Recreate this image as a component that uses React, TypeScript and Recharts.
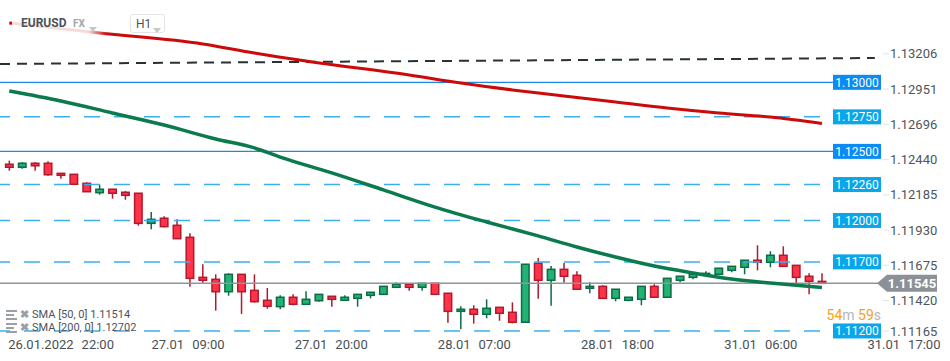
import React from "react";
import { Bar, ComposedChart, Line, ReferenceLine, XAxis, YAxis } from "recharts";

// hourly EURUSD candles, 26.01 22:00 -> 31.01 14:00
const opens = [
  1.12407, 1.12385, 1.12414, 1.12414, 1.12341, 1.12334, 1.12269, 1.12201, 1.12226, 1.12204,
  1.12197, 1.11979, 1.12016, 1.11965, 1.11878, 1.11588, 1.11574, 1.11484, 1.1161, 1.11494,
  1.11422, 1.11376, 1.11444, 1.11393, 1.11419, 1.11451, 1.11422, 1.11436, 1.11458, 1.11465,
  1.11516, 1.11538, 1.11516, 1.11545, 1.11473, 1.11342, 1.11357, 1.11321, 1.11371, 1.11335,
  1.11263, 1.1169, 1.11567, 1.11646, 1.11603, 1.11509, 1.11523, 1.11436, 1.11422, 1.11429,
  1.11523, 1.11444, 1.11567, 1.11588, 1.11603, 1.1161, 1.11639, 1.11661, 1.11712, 1.11697,
  1.11748, 1.11675, 1.11596, 1.11559,
];
const highs = [
  1.12433, 1.12421, 1.12421, 1.12428, 1.12341, 1.12334, 1.12276, 1.12259, 1.12226, 1.12213,
  1.12197, 1.12061, 1.1203, 1.12008, 1.11907, 1.11683, 1.1161, 1.11617, 1.1161, 1.1161,
  1.11511, 1.11458, 1.11465, 1.11487, 1.11465, 1.11451, 1.11458, 1.11465, 1.1148, 1.11523,
  1.11552, 1.11538, 1.11545, 1.11545, 1.11473, 1.11379, 1.11386, 1.11429, 1.11371, 1.11407,
  1.11683, 1.11728, 1.1167, 1.11692, 1.11632, 1.11552, 1.11531, 1.11502, 1.11444, 1.11523,
  1.11538, 1.11581, 1.11596, 1.11625, 1.11632, 1.11654, 1.11668, 1.11712, 1.1182, 1.11777,
  1.11813, 1.11675, 1.11617, 1.11617,
];
const lows = [
  1.1236, 1.12375, 1.1236, 1.12324, 1.12302, 1.12262, 1.12208, 1.12186, 1.12158, 1.1215,
  1.11962, 1.11936, 1.1195, 1.11868, 1.1152, 1.11549, 1.11347, 1.11455, 1.11323, 1.11405,
  1.11361, 1.11357, 1.11386, 1.11393, 1.11412, 1.11376, 1.11422, 1.11376, 1.11436, 1.11465,
  1.11516, 1.11491, 1.11491, 1.11465, 1.1126, 1.11212, 1.11253, 1.11292, 1.11274, 1.11255,
  1.11263, 1.11434, 1.11383, 1.11549, 1.11502, 1.11473, 1.11436, 1.11415, 1.11415, 1.11386,
  1.11444, 1.11444, 1.11552, 1.11574, 1.11603, 1.1161, 1.11625, 1.1161, 1.11639, 1.11661,
  1.11668, 1.11538, 1.11465, 1.11552,
];
const closes = [
  1.12385, 1.12414, 1.12396, 1.12331, 1.12327, 1.12262, 1.12208, 1.12226, 1.12197, 1.12182,
  1.11979, 1.12008, 1.11955, 1.11868, 1.11581, 1.11567, 1.11484, 1.1161, 1.11484, 1.11412,
  1.11379, 1.11444, 1.11393, 1.11429, 1.11465, 1.11429, 1.11444, 1.11465, 1.1148, 1.11523,
  1.11538, 1.11516, 1.11545, 1.11465, 1.11342, 1.11357, 1.11321, 1.11364, 1.11328, 1.11263,
  1.11683, 1.11567, 1.11646, 1.11596, 1.11502, 1.11523, 1.11436, 1.11502, 1.11444, 1.11523,
  1.11444, 1.11581, 1.11596, 1.1161, 1.11617, 1.11654, 1.11668, 1.11712, 1.11697, 1.11748,
  1.11668, 1.11588, 1.11559, 1.11545,
];

// moving averages, read at a few candles
const sma50Idx = [0, 4, 8, 12, 16, 19, 21, 25, 29, 33, 37, 41, 44, 47, 50, 53, 56, 59, 63];
const sma50Vals = [
  1.12937, 1.12865, 1.12778, 1.12691, 1.1259, 1.12525, 1.12459, 1.12344, 1.12221, 1.12097,
  1.11989, 1.11888, 1.11808, 1.11735, 1.1167, 1.1162, 1.11576, 1.11547, 1.11514,
];
const sma200Idx = [0, 7, 15, 19, 23, 31, 35, 39, 43, 47, 51, 55, 59, 63];
const sma200Vals = [
  1.1343, 1.13357, 1.13278, 1.13212, 1.13154, 1.13053, 1.12995, 1.12945, 1.12901, 1.12858,
  1.12814, 1.12778, 1.12749, 1.12702,
];

const priceTicks = [1.11165, 1.1142, 1.11675, 1.1193, 1.12185, 1.1244, 1.12696, 1.12951, 1.13206];
const timeTicks = [0, 11, 22, 33, 44, 55, 66];
const tickDates = ["26.01.2022", "27.01", "27.01", "28.01", "28.01", "31.01", "31.01"];
const tickHours = ["22:00", "09:00", "20:00", "07:00", "18:00", "06:00", "17:00"];

const solidLevels = [1.13, 1.125];
const dashedLevels = [1.1275, 1.1226, 1.12, 1.117, 1.112];
const lastPrice = 1.11545;
const trendFrom = 1.13133;
const trendTo = 1.13176;

const candles = opens.map((o, i) => {
  const a = sma50Idx.indexOf(i);
  const b = sma200Idx.indexOf(i);
  return {
    i,
    open: o,
    high: highs[i],
    low: lows[i],
    close: closes[i],
    range: [lows[i], highs[i]],
    sma50: a >= 0 ? sma50Vals[a] : null,
    sma200: b >= 0 ? sma200Vals[b] : null,
  };
});

const FONT = "Roboto, sans-serif";

const Candle = (props: any) => {
  const { x, y, width, height, payload } = props;
  const { open, close, high, low } = payload;
  const top = Math.min(y, y + height);
  const h = Math.abs(height);
  const k = h / (high - low);
  const up = close >= open;
  const bTop = top + (high - Math.max(open, close)) * k;
  const bBot = top + (high - Math.min(open, close)) * k;
  const cx = x + width / 2;
  const stroke = up ? "#0d6b45" : "#b0192e";
  const fill = up ? "#22b274" : "#ff3348";
  return (
    <g>
      <line x1={cx} x2={cx} y1={top} y2={top + h} stroke={stroke} strokeWidth={1.5} />
      <rect
        x={x + 0.75}
        y={bTop}
        width={width - 1.5}
        height={Math.max(bBot - bTop, 1.5)}
        fill={fill}
        stroke={stroke}
        strokeWidth={1.5}
      />
    </g>
  );
};

const TimeTick = (props: any) => {
  const { x, y, payload } = props;
  const k = timeTicks.indexOf(payload.value);
  return (
    <text x={x - 1 + k * 1.3} y={y + 9} fontSize={13} fill="#4a4f55" fontFamily={FONT}>
      <tspan>{tickDates[k]}</tspan>
      <tspan dx={8}>{tickHours[k]}</tspan>
    </text>
  );
};

const PriceTick = (props: any) => {
  const { x, y, payload } = props;
  // lowest label is pushed up so it clears the time labels
  const ty = y > 333 ? 331 : y;
  return (
    <g>
      <line x1={x + 1} x2={x + 7} y1={ty} y2={ty} stroke="#e2e2e2" />
      <text x={x + 8} y={ty + 4.5} fontSize={13} fill="#4f555b" fontFamily={FONT}>
        {payload.value.toFixed(5)}
      </text>
    </g>
  );
};

const LevelTag = (props: any) => {
  const { viewBox, text, color } = props;
  const ex = viewBox.x + viewBox.width;
  const y = viewBox.y;
  return (
    <g>
      <rect x={ex - 47} y={y - 7.5} width={48} height={15} fill={color} />
      <text x={ex - 23} y={y + 4.3} textAnchor="middle" fontSize={12} fill="#fff" fontFamily={FONT}>
        {text}
      </text>
    </g>
  );
};

const PriceTag = (props: any) => {
  const { viewBox } = props;
  const ex = viewBox.x + viewBox.width;
  const y = viewBox.y;
  const pts = `${ex - 3},${y} ${ex + 7},${y - 8.5} ${ex + 57},${y - 8.5} ${ex + 57},${y + 8.5} ${ex + 7},${y + 8.5}`;
  return (
    <g>
      <polygon points={pts} fill="#8b9196" />
      <text x={ex + 32} y={y + 4.5} textAnchor="middle" fontSize={13} fontWeight="bold" fill="#fff" fontFamily={FONT}>
        {lastPrice.toFixed(5)}
      </text>
    </g>
  );
};

const Caret = ({ color }: { color: string }) => (
  <svg width={8} height={5} style={{ display: "inline-block" }}>
    <polygon points="0,0 8,0 4,5" fill={color} />
  </svg>
);

const ListIcon = () => (
  <svg width={11} height={10} style={{ display: "inline-block" }}>
    <rect x={0} y={0} width={11} height={2} fill="#9aa0a5" />
    <rect x={0} y={4} width={8} height={2} fill="#9aa0a5" />
    <rect x={0} y={8} width={11} height={2} fill="#9aa0a5" />
  </svg>
);

export default function App() {
  return (
    <div style={{ position: "relative", width: 950, height: 361, background: "#fff", fontFamily: FONT }}>
      <style>{"body{margin:0}"}</style>
      <ComposedChart width={950} height={361} data={candles} margin={{ top: 0, right: 0, bottom: 0, left: 0 }}>
        <XAxis
          type="number"
          dataKey="i"
          domain={[-0.72, 67.5]}
          allowDataOverflow
          ticks={timeTicks}
          interval={0}
          tick={<TimeTick />}
          axisLine={false}
          tickLine={false}
          tickSize={0}
          height={23}
        />
        <YAxis
          orientation="right"
          domain={[1.11149, 1.13596]}
          allowDataOverflow
          ticks={priceTicks}
          interval={0}
          tick={<PriceTick />}
          axisLine={false}
          tickLine={false}
          tickSize={0}
          width={70}
        />
        <Bar dataKey="range" barSize={9} shape={Candle} isAnimationActive={false} />
        {solidLevels.map((v) => (
          <ReferenceLine
            key={v}
            y={v}
            stroke="#1e88e5"
            strokeWidth={1.2}
            label={<LevelTag text={v.toFixed(5)} color="#0b8bf4" />}
          />
        ))}
        {dashedLevels.map((v) => (
          <ReferenceLine
            key={v}
            y={v}
            stroke="#3aaff0"
            strokeWidth={1.5}
            strokeDasharray="16 14"
            label={<LevelTag text={v.toFixed(5)} color="#0aa6ec" />}
          />
        ))}
        <ReferenceLine
          segment={[
            { x: -0.72, y: trendFrom },
            { x: 67.1, y: trendTo },
          ]}
          stroke="#263238"
          strokeWidth={2}
          strokeDasharray="10 7"
        />
        <ReferenceLine y={lastPrice} stroke="#8f969b" strokeWidth={1.5} label={<PriceTag />} />
        <Line
          dataKey="sma200"
          type="monotone"
          connectNulls
          stroke="#cc0a0a"
          strokeWidth={3}
          dot={false}
          activeDot={false}
          isAnimationActive={false}
        />
        <Line
          dataKey="sma50"
          type="monotone"
          connectNulls
          stroke="#0b7a4c"
          strokeWidth={3.5}
          dot={false}
          activeDot={false}
          isAnimationActive={false}
        />
      </ComposedChart>

      {/* header fade + symbol */}
      <div
        style={{
          position: "absolute",
          left: 12,
          top: 11,
          width: 95,
          height: 24,
          background: "linear-gradient(to right, rgba(255,255,255,0.85) 0%, rgba(255,255,255,0.85) 80%, rgba(255,255,255,0) 100%)",
        }}
      />
      <div style={{ position: "absolute", left: 21, top: 16, fontSize: 12, fontWeight: "bold", color: "#4b535b" }}>
        EURUSD
      </div>
      <div style={{ position: "absolute", left: 73, top: 18, fontSize: 10, fontWeight: "bold", color: "#a0a6ab" }}>
        FX
      </div>
      <div style={{ position: "absolute", left: 89, top: 17 }}>
        <Caret color="#c4c8cb" />
      </div>
      <div
        style={{
          position: "absolute",
          left: 130,
          top: 14,
          width: 33,
          height: 17,
          border: "1px solid #e4e4e4",
          borderRadius: 3,
          background: "#fff",
        }}
      >
        <span style={{ position: "absolute", left: 5, top: 2, fontSize: 12, color: "#4b535b" }}>H1</span>
        <span style={{ position: "absolute", left: 22, top: 3 }}>
          <Caret color="#c4c8cb" />
        </span>
      </div>

      {/* indicator legend */}
      {[
        "SMA [50, 0] 1.11514",
        "SMA [200, 0] 1.12702",
      ].map((t, k) => (
        <div
          key={t}
          style={{
            position: "absolute",
            left: 6,
            top: 308 + k * 13,
            display: "flex",
            alignItems: "center",
            fontSize: 11,
            color: "#4b535b",
            whiteSpace: "pre",
          }}
        >
          <ListIcon />
          <span style={{ marginLeft: 3, color: "#9aa0a5", fontWeight: "bold", fontSize: 11 }}>✖</span>
          <span style={{ marginLeft: 3 }}>{t}</span>
        </div>
      ))}

      {/* candle countdown */}
      <div style={{ position: "absolute", right: 950 - 881, top: 307, fontSize: 14, whiteSpace: "pre" }}>
        <span style={{ color: "#f5a01a" }}>54</span>
        <span style={{ color: "#b3b7bb" }}>m </span>
        <span style={{ color: "#f5a01a" }}>59</span>
        <span style={{ color: "#b3b7bb" }}>s</span>
      </div>
    </div>
  );
}
